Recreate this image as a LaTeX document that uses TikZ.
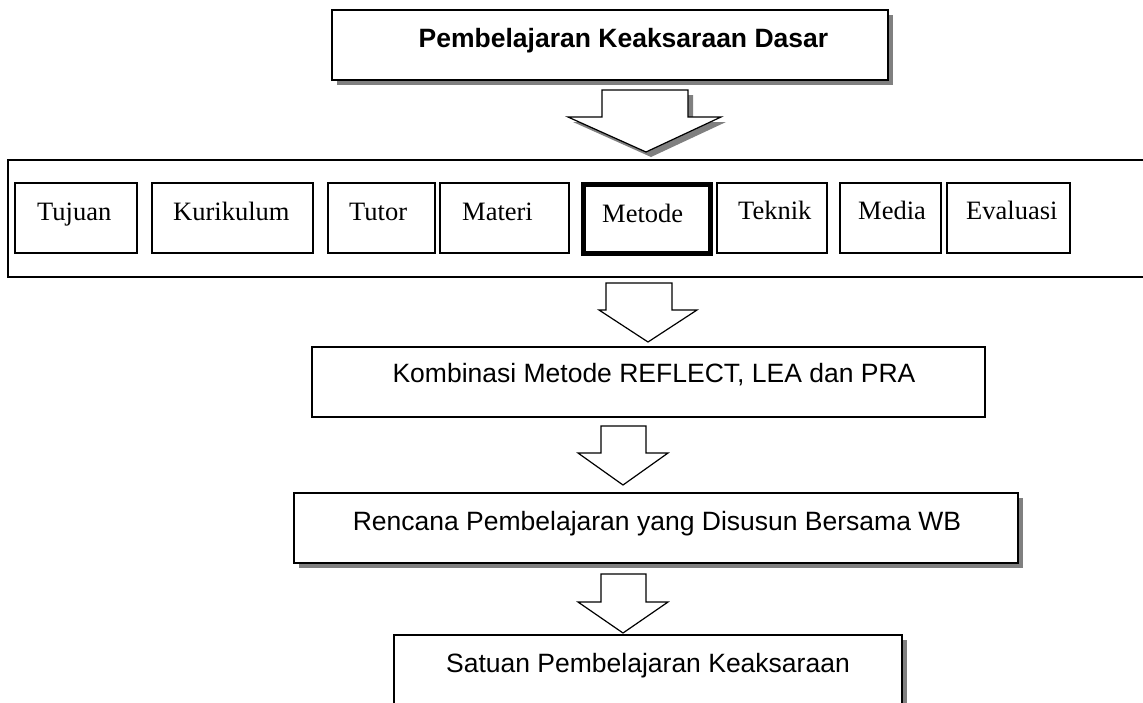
\documentclass[tikz,border=0pt]{standalone}
\usepackage{fontspec}
\setmainfont{Liberation Serif}
\newfontfamily\arialf{Liberation Sans}
\usetikzlibrary{shadows}
\definecolor{shadowgray}{HTML}{808080}
\begin{document}
\begin{tikzpicture}[x=1pt,y=-1pt,
  box/.style={draw=black, line width=1.2pt, fill=white, inner sep=0pt, outer sep=0pt, anchor=north west},
  thickbox/.style={box, line width=5pt},
  myshadow/.style={drop shadow={shadow xshift=5pt, shadow yshift=-5pt, opacity=1, fill=shadowgray}},
  blockarrow/.style={draw=black, line width=1.2pt, fill=white, line join=miter},
  sanslabel/.style={font=\arialf\fontsize{26.5}{30}\selectfont, inner sep=0pt, anchor=base},
  boldlabel/.style={font=\arialf\bfseries\fontsize{26.5}{30}\selectfont, inner sep=0pt, anchor=base},
  seriflabel/.style={font=\fontsize{26.5}{30}\selectfont, inner sep=0pt, anchor=base west}]
\useasboundingbox (0,0) rectangle (1143,702);
\clip (0,0) rectangle (1143,702);
\fill[white] (0,0) rectangle (1143,702);

% top box
\node[box, myshadow, minimum width=556pt, minimum height=70pt] (top) at (332,10) {};
\node[boldlabel] (toptext) at (623.5,47) {Pembelajaran Keaksaraan Dasar};

% arrow 1
\draw[blockarrow, myshadow] (602,90) -- (688,90) -- (688,117) -- (721,117) -- (646,152) -- (568,117) -- (602,117) -- cycle;

% container
\node[box, minimum width=1152pt, minimum height=117pt] (cont) at (8,160) {};

% row boxes
\node[box, minimum width=122pt, minimum height=70pt] (tuj) at (15,183) {};
\node[box, minimum width=161pt, minimum height=70pt] (kur) at (152,183) {};
\node[box, minimum width=107pt, minimum height=70pt] (tut) at (328,183) {};
\node[box, minimum width=129pt, minimum height=70pt] (mat) at (440,183) {};
\node[thickbox, minimum width=127pt, minimum height=69pt] (met) at (583,184) {};
\node[box, minimum width=110pt, minimum height=70pt] (tek) at (717,183) {};
\node[box, minimum width=101pt, minimum height=70pt] (med) at (840,183) {};
\node[box, minimum width=123pt, minimum height=70pt] (eva) at (947,183) {};

\node[seriflabel] (tujt) at (37,220) {Tujuan};
\node[seriflabel] (kurt) at (173,220) {Kurikulum};
\node[seriflabel] (tutt) at (349,220) {Tutor};
\node[seriflabel] (matt) at (462,220) {Materi};
\node[seriflabel] (mett) at (602,222) {Metode};
\node[seriflabel] (tekt) at (738,219) {Teknik};
\node[seriflabel] (medt) at (858,219) {Media};
\node[seriflabel] (evat) at (966,219) {Evaluasi};

% arrow 2
\draw[blockarrow] (606,283) -- (672,283) -- (672,310) -- (697,310) -- (648,342) -- (599,310) -- (606,310) -- cycle;

% Kombinasi box
\node[box, minimum width=673pt, minimum height=70pt] (kom) at (312,347) {};
\node[sanslabel] (komt) at (654,382) {Kombinasi Metode REFLECT, LEA dan PRA};

% arrow 3
\draw[blockarrow] (601,426) -- (646,426) -- (646,453) -- (668,453) -- (623,485) -- (578,453) -- (601,453) -- cycle;

% Rencana box
\node[box, myshadow, minimum width=724pt, minimum height=70pt] (ren) at (294,493) {};
\node[sanslabel] (rent) at (657,530) {Rencana Pembelajaran yang Disusun Bersama WB};

% arrow 4
\draw[blockarrow] (601,574) -- (646,574) -- (646,602) -- (668,602) -- (623,633) -- (578,602) -- (601,602) -- cycle;

% Satuan box
\node[box, myshadow, minimum width=508pt, minimum height=90pt] (sat) at (394,635) {};
\node[sanslabel] (satt) at (648,672) {Satuan Pembelajaran Keaksaraan};
\end{tikzpicture}
\end{document}
